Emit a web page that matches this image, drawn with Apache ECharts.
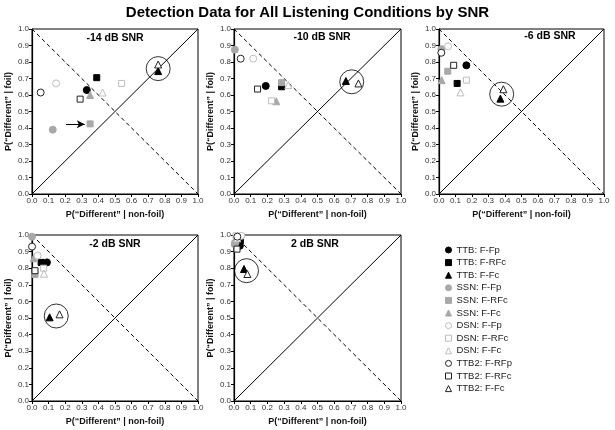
<!DOCTYPE html>
<html><head><meta charset="utf-8">
<script src="https://cdn.jsdelivr.net/npm/echarts@6/dist/echarts.min.js"></script>
<style>html,body{margin:0;padding:0;background:#fff}#c{width:615px;height:430px}</style>
</head><body><div id="c"></div>
<script>
// ---- data (one [x,y] per panel) ----
const panelTitles = ['-14 dB SNR','-10 dB SNR','-6 dB SNR','-2 dB SNR','2 dB SNR'];
const tickValues = [0,0.1,0.2,0.3,0.4,0.5,0.6,0.7,0.8,0.9,1.0];
const ttbFFp   = [[0.33,0.63],[0.19,0.655],[0.166,0.78],[0.09,0.835],[0.035,0.935]];
const ttbFRFc  = [[0.39,0.705],[0.285,0.65],[0.11,0.67],[0.055,0.835],[0.038,0.965]];
const ttbFFc   = [[0.76,0.745],[0.67,0.685],[0.372,0.578],[0.106,0.504],[0.06,0.795]];
const ssnFFp   = [[0.125,0.39],[0.005,0.875],[0.015,0.878],[0.0,0.99],[0.004,0.945]];
const ssnFRFc  = [[0.35,0.425],[0.285,0.675],[0.053,0.744],[0.018,0.762],[0.006,0.95]];
const ssnFFc   = [[0.35,0.60],[0.253,0.562],[0.016,0.69],[0.01,0.86],[0.01,0.97]];
const dsnFFp   = [[0.145,0.67],[0.115,0.82],[0.055,0.895],[0.034,0.876],[0.044,0.995]];
const dsnFRFc  = [[0.54,0.67],[0.225,0.565],[0.166,0.69],[0.07,0.80],[0.012,0.995]];
const dsnFFc   = [[0.425,0.615],[0.325,0.66],[0.13,0.616],[0.072,0.767],[0.02,0.98]];
const ttb2FRFp = [[0.052,0.615],[0.04,0.82],[0.014,0.856],[0.0,0.93],[0.02,0.99]];
const ttb2FRFc = [[0.29,0.575],[0.141,0.636],[0.089,0.78],[0.018,0.785],[0.018,0.915]];
const ttb2FFc  = [[0.76,0.785],[0.745,0.67],[0.39,0.635],[0.166,0.522],[0.08,0.765]];
const ringCenters = [[0.76,0.76],[0.705,0.68],[0.38,0.605],[0.146,0.512],[0.075,0.785]];
const arrowLine = [[0.205,0.422],[0.318,0.422]]; // panel 1 only
const diagSolid = [[0,0],[1,1]];
const diagDashed = [[0,1],[1,0]];

// ---- layout & styles ----
const FONT = '"Liberation Sans", Arial, Helvetica, sans-serif';
const grids = [
  {left:32, top:29, width:166, height:165},
  {left:234, top:29, width:167, height:165},
  {left:439, top:29, width:165, height:165},
  {left:32, top:235, width:166, height:166},
  {left:234, top:235, width:167, height:166}
];
const titlePos = [[115,38],[322,37],[550,36],[115,244],[315,244]];
const seriesDefs = [
  {name:'TTB: F-Fp',   data:ttbFFp,   symbol:'circle',   size:7, color:'#000', border:'#000'},
  {name:'TTB: F-RFc',  data:ttbFRFc,  symbol:'rect',     size:6, color:'#000', border:'#000'},
  {name:'TTB: F-Fc',   data:ttbFFc,   symbol:'triangle', size:7, color:'#000', border:'#000'},
  {name:'SSN: F-Fp',   data:ssnFFp,   symbol:'circle',   size:7, color:'#a8a8a8', border:'#a8a8a8'},
  {name:'SSN: F-RFc',  data:ssnFRFc,  symbol:'rect',     size:6, color:'#a8a8a8', border:'#a8a8a8'},
  {name:'SSN: F-Fc',   data:ssnFFc,   symbol:'triangle', size:7, color:'#a8a8a8', border:'#a8a8a8'},
  {name:'DSN: F-Fp',   data:dsnFFp,   symbol:'circle',   size:7, color:'#fff', border:'#bdbdbd'},
  {name:'DSN: F-RFc',  data:dsnFRFc,  symbol:'rect',     size:6, color:'#fff', border:'#bdbdbd'},
  {name:'DSN: F-Fc',   data:dsnFFc,   symbol:'triangle', size:7, color:'#fff', border:'#bdbdbd'},
  {name:'TTB2: F-RFp', data:ttb2FRFp, symbol:'circle',   size:7, color:'#fff', border:'#222'},
  {name:'TTB2: F-RFc', data:ttb2FRFc, symbol:'rect',     size:6, color:'#fff', border:'#222'},
  {name:'TTB2: F-Fc',  data:ttb2FFc,  symbol:'triangle', size:7, color:'#fff', border:'#222'}
];

const xAxes = [], yAxes = [], series = [], graphics = [];
grids.forEach((g, i) => {
  const axisCommon = {
    type:'value', min:0, max:1, interval:0.1, gridIndex:i,
    axisLine:{show:true, onZero:false, lineStyle:{color:'#000', width:1.2}},
    axisTick:{show:true, length:3, lineStyle:{color:'#000'}},
    axisLabel:{fontSize:8, color:'#333', fontFamily:FONT, margin:3, formatter:v=>v.toFixed(1)},
    splitLine:{show:false},
    nameLocation:'middle',
    nameTextStyle:{fontSize:9, fontWeight:'bold', color:'#111', fontFamily:FONT}
  };
  xAxes.push(Object.assign({}, axisCommon, {name:'P(“Different” | non-foil)', nameGap:16}));
  yAxes.push(Object.assign({}, axisCommon, {name:'P(“Different” | foil)', nameGap:19}));
  series.push({type:'line', xAxisIndex:i, yAxisIndex:i, data:diagSolid, symbol:'none', silent:true,
    lineStyle:{color:'#000', width:1}, z:1});
  series.push({type:'line', xAxisIndex:i, yAxisIndex:i, data:diagDashed, symbol:'none', silent:true,
    lineStyle:{color:'#000', width:1, type:[4,3]}, z:1});
  series.push({type:'scatter', xAxisIndex:i, yAxisIndex:i, data:[ringCenters[i]], symbol:'circle', symbolSize:24, silent:true,
    itemStyle:{color:'rgba(0,0,0,0)', borderColor:'#000', borderWidth:1}, z:2});
  seriesDefs.forEach(d => {
    series.push({type:'scatter', name:d.name, xAxisIndex:i, yAxisIndex:i, data:[d.data[i]],
      symbol:d.symbol, symbolSize:d.size,
      itemStyle:{color:d.color, borderColor:d.border, borderWidth:1, opacity:1}, z:3});
  });
  graphics.push({type:'text', x:titlePos[i][0], y:titlePos[i][1], silent:true,
    style:{text:panelTitles[i], font:'bold 10.5px '+FONT, fill:'#000', align:'center', verticalAlign:'middle'}});
});
// arrow in panel 1
series.push({type:'line', xAxisIndex:0, yAxisIndex:0, data:[], symbol:'none', silent:true,
  markLine:{silent:true, symbol:['none','arrow'], symbolSize:[6,8], label:{show:false},
    lineStyle:{color:'#000', width:1, type:'solid'},
    data:[[{coord:arrowLine[0]},{coord:arrowLine[1]}]]}});

const grid = grids.map(g => Object.assign({show:true, borderColor:'#000', borderWidth:1, backgroundColor:'transparent'}, g));

const chart = echarts.init(document.getElementById('c'), null, {renderer:'canvas'});
chart.setOption({
  animation:false,
  backgroundColor:'#fff',
  title:{text:'Detection Data for All Listening Conditions by SNR', left:'center', top:0,
    textStyle:{fontSize:15, fontWeight:'bold', color:'#000', fontFamily:FONT}},
  legend:{orient:'vertical', left:440, top:240, itemWidth:6, itemHeight:6, itemGap:2.6,
    data:seriesDefs.map(d=>d.name), selectedMode:false,
    itemStyle:{borderWidth:1},
    textStyle:{fontSize:9.5, color:'#222', fontFamily:FONT}},
  grid:grid, xAxis:xAxes, yAxis:yAxes, series:series, graphic:graphics
});
</script></body></html>
